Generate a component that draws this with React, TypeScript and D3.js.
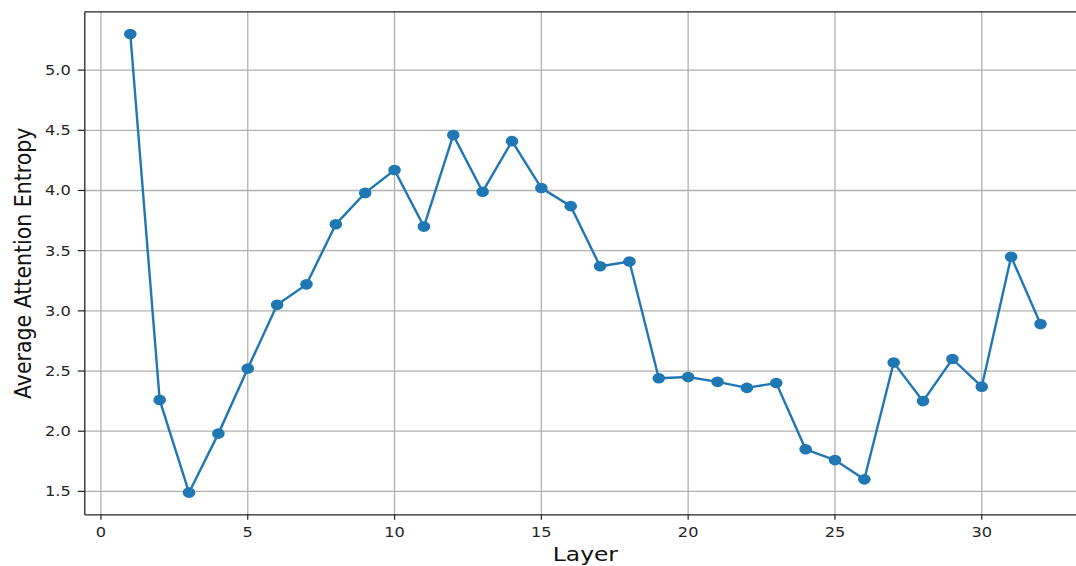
import React from "react";
import * as d3 from "d3";

const layers: number[] = [1,2,3,4,5,6,7,8,9,10,11,12,13,14,15,16,17,18,19,20,21,22,23,24,25,26,27,28,29,30,31,32];
const entropy: number[] = [5.30,2.26,1.49,1.98,2.52,3.05,3.22,3.72,3.98,4.17,3.70,4.46,3.99,4.41,4.02,3.87,3.37,3.41,2.44,2.45,2.41,2.36,2.40,1.85,1.76,1.60,2.57,2.25,2.60,2.37,3.45,2.89];
const xTicks: number[] = [0,5,10,15,20,25,30];
const yTicks: number[] = [1.5,2.0,2.5,3.0,3.5,4.0,4.5,5.0];

const W = 1076, H = 566;
const FONT = "DejaVu Sans, sans-serif";
const SX = 1.2;

export default function App() {
  const left = 84.8, top = 11.8, bottom = 514.8;
  const x = d3.scaleLinear().domain([-0.55, 33.55]).range([left, 1086]);
  const y = d3.scaleLinear().domain([1.3055, 5.4845]).range([bottom, top]);
  const line = d3.line<number>().x((_, i) => x(layers[i])).y(d => y(d));
  const right = x(33.55);
  return (
    <svg width={W} height={H} style={{ position: "absolute", left: 0, top: 0, background: "#fff" }}>
      <rect x={0} y={0} width={W} height={H} fill="#fff" />
      <g>
        {xTicks.map(t => (
          <line key={"gx" + t} x1={x(t)} x2={x(t)} y1={top} y2={bottom} stroke="#b0b0b0" strokeWidth={1.3} />
        ))}
        {yTicks.map(t => (
          <line key={"gy" + t} x1={left} x2={right} y1={y(t)} y2={y(t)} stroke="#b0b0b0" strokeWidth={1.3} />
        ))}
      </g>
      <path d={line(entropy) || ""} fill="none" stroke="#1f77b4" strokeWidth={2.4} />
      {entropy.map((v, i) => (
        <ellipse key={i} cx={x(layers[i])} cy={y(v)} rx={6.3} ry={5.3} fill="#1f77b4" />
      ))}
      <line x1={left} x2={left} y1={top} y2={bottom} stroke="#222" strokeWidth={1.3} />
      <line x1={left} x2={right} y1={bottom} y2={bottom} stroke="#222" strokeWidth={1.3} />
      <line x1={left} x2={right} y1={top} y2={top} stroke="#222" strokeWidth={1.3} />
      {xTicks.map(t => (
        <g key={"tx" + t}>
          <line x1={x(t)} x2={x(t)} y1={bottom} y2={bottom + 5} stroke="#222" strokeWidth={1.2} />
          <text transform={`translate(${x(t)},${bottom + 22}) scale(${SX},1)`} textAnchor="middle" fontFamily={FONT} fontSize={13.5} fill="#262626">{t}</text>
        </g>
      ))}
      {yTicks.map(t => (
        <g key={"ty" + t}>
          <line x1={left - 7} x2={left} y1={y(t)} y2={y(t)} stroke="#222" strokeWidth={1.2} />
          <text transform={`translate(${left - 14},${y(t) + 5}) scale(${SX},1)`} textAnchor="end" fontFamily={FONT} fontSize={13.5} fill="#262626">{t.toFixed(1)}</text>
        </g>
      ))}
      <text transform={`translate(${(left + right) / 2 - 0},${561}) scale(1.2,1)`} textAnchor="middle" fontFamily={FONT} fontSize={19.5} fill="#111">Layer</text>
      <text transform={`translate(31,${(top + bottom) / 2}) rotate(-90) scale(1,1.15)`} textAnchor="middle" fontFamily={FONT} fontSize={20.5} fill="#111">Average Attention Entropy</text>
    </svg>
  );
}
